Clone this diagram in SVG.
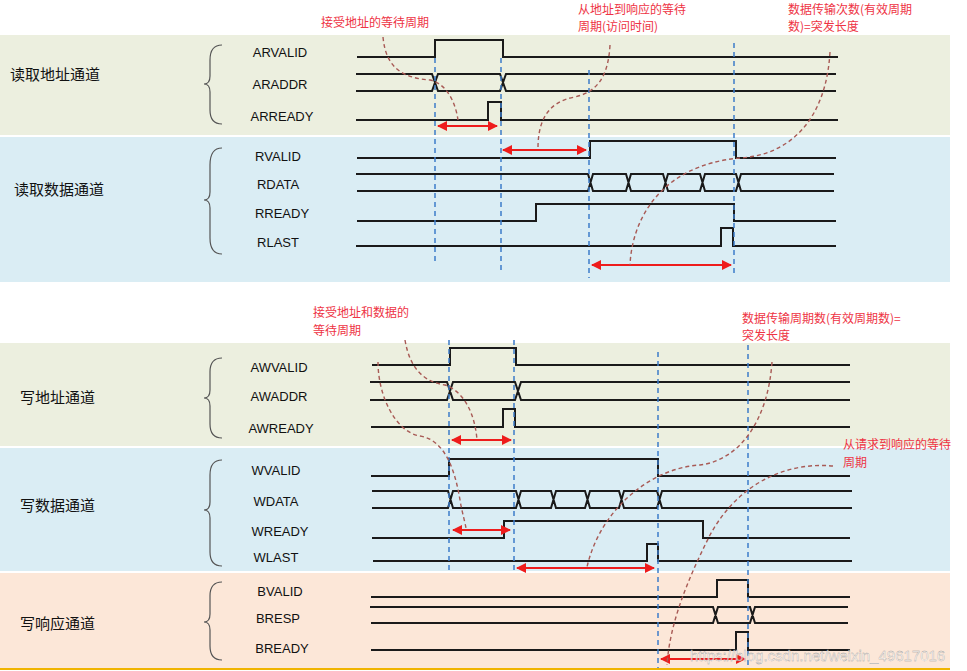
<svg xmlns="http://www.w3.org/2000/svg" width="967" height="671" viewBox="0 0 967 671">
<style>
.w{fill:none;stroke:#1a1a1a;stroke-width:2}
.d{fill:none;stroke:#3d7cc9;stroke-width:1.5;stroke-dasharray:5,4}
.c{fill:none;stroke:#a85a55;stroke-width:1.4;stroke-dasharray:4,3}
.a{stroke:#ee1c1c;stroke-width:2;marker-start:url(#h);marker-end:url(#h)}
.l{font-family:"Liberation Sans",Arial,sans-serif;font-size:13px;fill:#111;text-anchor:middle}
.n{font-family:"Noto Sans CJK SC",sans-serif;font-size:15px;fill:#111}
.r{font-family:"Noto Sans CJK SC",sans-serif;font-size:12px;fill:#ee3344}
.b{fill:none;stroke:#555;stroke-width:1.2}
</style>
<defs><marker id="h" viewBox="0 0 10 10" refX="9" refY="5" markerWidth="5" markerHeight="5" orient="auto-start-reverse"><path d="M0,0L10,5L0,10z" fill="#ee1c1c"/></marker></defs>
<rect width="967" height="671" fill="#fff"/>
<g id="bands">
<rect x="0" y="35" width="950" height="100" fill="#ECEFDF"/>
<rect x="0" y="137" width="950" height="145" fill="#DAEDF4"/>
<rect x="0" y="343" width="950" height="103" fill="#ECEFDF"/>
<rect x="0" y="448" width="950" height="123" fill="#DAEDF4"/>
<rect x="0" y="573" width="950" height="95" fill="#FCE7D8"/>
<line x1="0" y1="669" x2="950" y2="669" stroke="#f0b400" stroke-width="2"/>
</g>
<g id="channels">
<text class="n" x="10" y="80">读取地址通道</text>
<text class="n" x="14" y="195">读取数据通道</text>
<text class="n" x="20" y="403">写地址通道</text>
<text class="n" x="20" y="511">写数据通道</text>
<text class="n" x="20" y="629">写响应通道</text>
<path class="b" d="M222,45 Q210,45 210,60 L210,76 Q210,84 204,84 Q210,84 210,92 L210,110 Q210,124 222,124"/>
<path class="b" d="M222,148 Q210,148 210,165 L210,192 Q210,200 204,200 Q210,200 210,208 L210,238 Q210,254 222,254"/>
<path class="b" d="M222,358 Q210,358 210,372 L210,390 Q210,398 204,398 Q210,398 210,406 L210,424 Q210,438 222,438"/>
<path class="b" d="M222,460 Q210,460 210,475 L210,502 Q210,510 204,510 Q210,510 210,518 L210,552 Q210,566 222,566"/>
<path class="b" d="M222,582 Q210,582 210,596 L210,614 Q210,622 204,622 Q210,622 210,630 L210,646 Q210,660 222,660"/>
</g>
<g id="labels">
<text class="l" x="280" y="57">ARVALID</text>
<text class="l" x="280" y="89">ARADDR</text>
<text class="l" x="282" y="121">ARREADY</text>
<text class="l" x="278" y="161">RVALID</text>
<text class="l" x="278" y="189">RDATA</text>
<text class="l" x="282" y="218">RREADY</text>
<text class="l" x="278" y="247">RLAST</text>
<text class="l" x="279" y="372">AWVALID</text>
<text class="l" x="279" y="401">AWADDR</text>
<text class="l" x="281" y="433">AWREADY</text>
<text class="l" x="276" y="475">WVALID</text>
<text class="l" x="276" y="506">WDATA</text>
<text class="l" x="280" y="536">WREADY</text>
<text class="l" x="276" y="562">WLAST</text>
<text class="l" x="280" y="596">BVALID</text>
<text class="l" x="278" y="623">BRESP</text>
<text class="l" x="282" y="653">BREADY</text>
</g>
<g id="waves">
<path class="w" d="M357,57H435V40H503V57H838"/>
<path class="w" d="M356,74H432L438,91H500L506,74H836M356,91H432L438,74H500L506,91H836"/>
<path class="w" d="M356,120H488V102H501V120H838"/>
<path class="w" d="M357,158H590V141H736V158H836"/>
<path class="w" d="M356,174H588L593,191H626L631,174H663L668,191H700L705,174H736L741,191H834M357,191H588L593,174H626L631,191H663L668,174H700L705,191H736L741,174H834"/>
<path class="w" d="M357,221H536V204H734V221H836"/>
<path class="w" d="M356,246H721V228H733V246H836"/>
<path class="w" d="M372,365H450V348H516V365H850"/>
<path class="w" d="M370,382H447L453,400H515L521,382H850M370,400H447L453,382H515L521,400H850"/>
<path class="w" d="M371,427H503V409H515V427H850"/>
<path class="w" d="M371,476H449V459H658V476H850"/>
<path class="w" d="M372,491H448L453,508H516L521,491H551L556,508H585L590,491H619L624,508H657L662,491H852M372,508H448L453,491H516L521,508H551L556,491H585L590,508H619L624,491H657L662,508H852"/>
<path class="w" d="M372,538H504V521H703V538H850"/>
<path class="w" d="M373,561H647V544H658V561H852"/>
<path class="w" d="M371,597H717V580H748V597H850"/>
<path class="w" d="M370,607H713L718,623H750L755,607H848M371,623H713L718,607H750L755,623H848"/>
<path class="w" d="M371,650H736V632H748V650H850"/>
</g>
<g id="connectors">
<line class="d" x1="435" y1="58" x2="435" y2="265"/>
<line class="d" x1="501" y1="58" x2="501" y2="270"/>
<line class="d" x1="589" y1="70" x2="589" y2="278"/>
<line class="d" x1="734" y1="43" x2="734" y2="276"/>
<line class="d" x1="449" y1="340" x2="449" y2="571"/>
<line class="d" x1="514" y1="340" x2="514" y2="571"/>
<line class="d" x1="658" y1="352" x2="658" y2="668"/>
<line class="d" x1="748" y1="345" x2="748" y2="668"/>
<line class="a" x1="438" y1="126" x2="497" y2="126"/>
<line class="a" x1="503" y1="150" x2="586" y2="150"/>
<line class="a" x1="592" y1="265" x2="731" y2="265"/>
<line class="a" x1="452" y1="440" x2="511" y2="440"/>
<line class="a" x1="453" y1="530" x2="510" y2="530"/>
<line class="a" x1="517" y1="568" x2="654" y2="568"/>
<line class="a" x1="661" y1="659" x2="745" y2="659"/>
<path class="c" d="M383,37 C386,70 405,78 430,80 C448,84 456,105 458,120"/>
<path class="c" d="M610,45 C608,80 595,92 575,97 C545,102 538,125 538,148"/>
<path class="c" d="M830,52 C826,120 790,155 740,158 C660,165 632,220 630,265"/>
<path class="c" d="M405,340 C410,370 425,382 445,385 C465,392 475,415 477,440"/>
<path class="c" d="M378,362 C378,395 395,432 420,436 C445,440 455,470 460,500 C462,512 465,522 466,528"/>
<path class="c" d="M772,362 C768,420 740,460 700,465 C650,468 600,510 587,567"/>
<path class="c" d="M833,466 C790,462 740,480 710,535 C690,575 670,620 667,665"/>
</g>
<g id="notes">
<text class="r" x="321" y="27">接受地址的等待周期</text>
<text class="r" x="578" y="14">从地址到响应的等待</text>
<text class="r" x="578" y="31">周期(访问时间)</text>
<text class="r" x="788" y="14">数据传输次数(有效周期</text>
<text class="r" x="788" y="31">数)=突发长度</text>
<text class="r" x="313" y="317">接受地址和数据的</text>
<text class="r" x="313" y="335">等待周期</text>
<text class="r" x="742" y="323">数据传输周期数(有效周期数)=</text>
<text class="r" x="742" y="340">突发长度</text>
<text class="r" x="843" y="449">从请求到响应的等待</text>
<text class="r" x="843" y="467">周期</text>
<text x="690" y="661" font-family="Liberation Sans,Arial,sans-serif" font-size="15" fill="#ffffff" fill-opacity="0.7" stroke="#999" stroke-width="0.3">https://blog.csdn.net/weixin_49617016</text>
</g>
</svg>
